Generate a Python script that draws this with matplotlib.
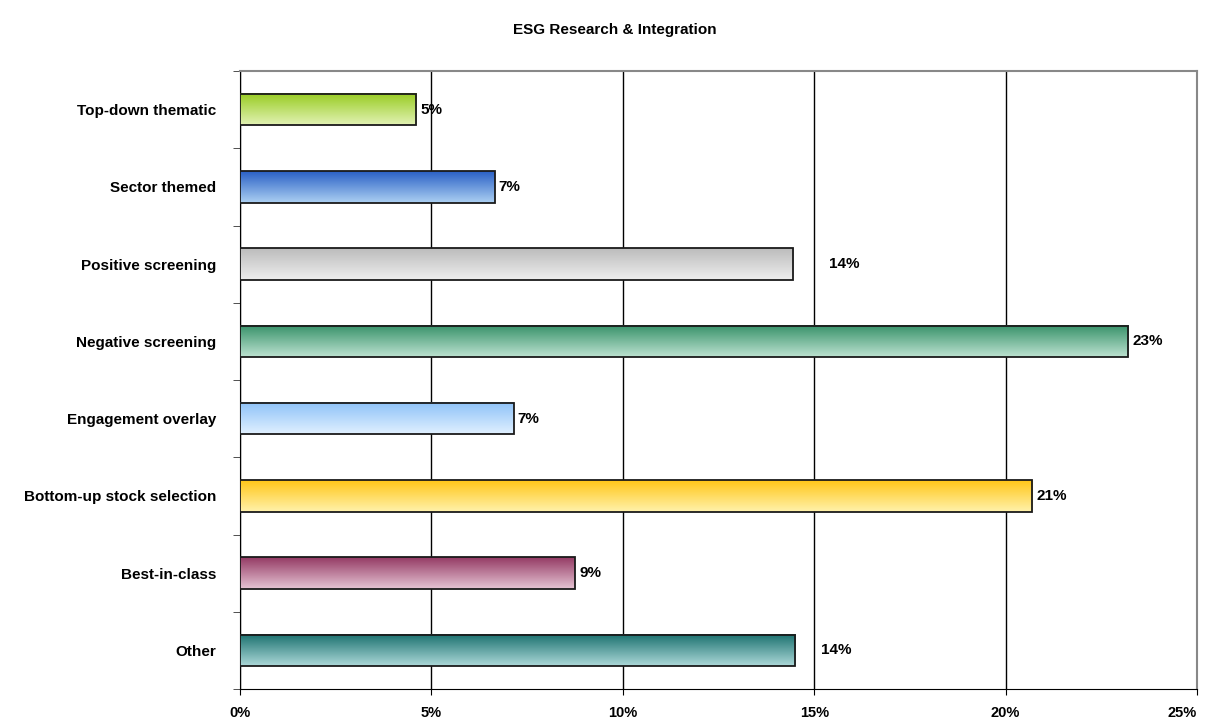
import numpy as np
import matplotlib
matplotlib.use("Agg")
import matplotlib.pyplot as plt
from matplotlib.colors import LinearSegmentedColormap
from matplotlib.ticker import FuncFormatter

plt.rcParams['font.family'] = ['Liberation Sans', 'DejaVu Sans']

categories = ["Top-down thematic", "Sector themed", "Positive screening", "Negative screening",
              "Engagement overlay", "Bottom-up stock selection", "Best-in-class", "Other"]
values = [4.6, 6.65, 14.45, 23.2, 7.15, 20.7, 8.75, 14.5]
x_ticks = [0, 5, 10, 15, 20, 25]
top_colors = ["#98cc22", "#2a60c6", "#bcbcbc", "#38926a", "#8ec2f8", "#ffc618", "#943a64", "#1c7270"]
bottom_colors = ["#e2f2b4", "#acd0f2", "#eeeeee", "#bce2d0", "#e0f0ff", "#fff2ac", "#e6c4d4", "#acd8d8"]
label_offsets = [3, 3, 26, 3, 3, 3, 3, 19]

fig = plt.figure(figsize=(12.3, 7.18), dpi=100)
ax = fig.add_axes([240 / 1230, 1 - 689 / 718, 957 / 1230, 618 / 718])

h = 0.41
for i, (v, c1, c2) in enumerate(zip(values, top_colors, bottom_colors)):
    cmap = LinearSegmentedColormap.from_list("g", [c1, c2])
    grad = np.linspace(0, 1, 100).reshape(-1, 1)
    ax.imshow(grad, cmap=cmap, aspect='auto', extent=[0, v, i + h / 2, i - h / 2],
              origin='upper', zorder=3, interpolation='bilinear')
    ax.barh(i, v, height=h, facecolor='none', edgecolor='#1a1a1a', linewidth=1.3, zorder=4)
    ax.annotate(f"{v:.0f}%", (v, i), xytext=(label_offsets[i], 0), textcoords='offset points',
                ha='left', va='center', fontsize=11, fontweight='bold', zorder=5)

ax.set_xlim(0, 25)
ax.set_ylim(len(categories) - 0.5, -0.5)
ax.set_xticks(x_ticks)
ax.xaxis.set_major_formatter(FuncFormatter(lambda x, p: f"{x:.0f}%"))
ax.grid(axis='x', color='black', linewidth=1, zorder=1)
ax.set_axisbelow(True)

ax.set_yticks(range(len(categories)))
ax.set_yticklabels(categories, fontsize=11, fontweight='bold')
ax.tick_params(axis='y', which='major', length=0, pad=17)
ax.set_yticks(np.arange(-0.5, len(categories), 1), minor=True)
ax.tick_params(axis='y', which='minor', length=5, direction='out', color='#333333')
ax.tick_params(axis='x', length=4, direction='out', pad=8, labelsize=10.5)
xticks = ax.xaxis.get_major_ticks()
for t in xticks:
    t.label1.set_fontweight('bold')
xticks[-1].label1.set_horizontalalignment('right')

ax.spines['top'].set_color('#888888')
ax.spines['right'].set_color('#888888')
ax.spines['top'].set_linewidth(1.5)
ax.spines['right'].set_linewidth(1.5)
ax.spines['left'].set_color('black')
ax.spines['bottom'].set_color('black')

fig.text(0.5, 1 - 30 / 718, "ESG Research & Integration", ha='center', va='center',
         fontsize=11, fontweight='bold')

fig.savefig("out.png", dpi=100)
